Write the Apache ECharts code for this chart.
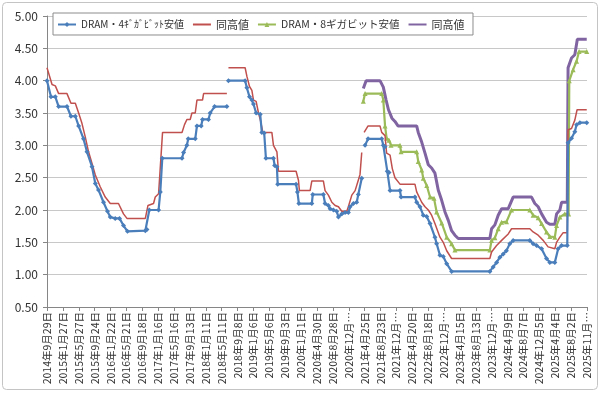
<!DOCTYPE html>
<html><head><meta charset="utf-8">
<script src="https://cdn.jsdelivr.net/npm/echarts@6/dist/echarts.min.js"></script>
<style>html,body{margin:0;padding:0;background:#fff}#c{width:600px;height:393px}</style>
</head><body><div id="c"></div>
<script>
// Series names (legend)
const seriesNames = ['DRAM・4ｷﾞｶﾞﾋﾞｯﾄ安値', '同高値', 'DRAM・8ギガビット安値', '同高値 '];
// Axis settings (days from the first date)
const startDate = '2014-09-29';
const yTicks = [0.5, 1.0, 1.5, 2.0, 2.5, 3.0, 3.5, 4.0, 4.5, 5.0];

// DRAM 4Gb low
const low4 = [
['2014-09-29',4.00],['2014-10-29',3.75],['2014-12-01',3.75],['2014-12-26',3.60],['2015-02-27',3.60],
['2015-03-29',3.45],['2015-05-01',3.45],['2015-05-26',3.30],['2015-07-02',3.10],['2015-07-28',2.90],
['2015-09-04',2.67],['2015-09-29',2.41],['2015-10-23',2.31],['2015-11-30',2.12],['2015-12-30',1.98],
['2016-01-20',1.89],['2016-02-26',1.87],['2016-03-30',1.87],['2016-04-29',1.76],['2016-05-29',1.67],
['2016-10-11',1.68],['2016-10-23',1.70],['2016-11-10',2.00],['2017-01-19',2.00],['2017-02-01',2.28],
['2017-02-16',2.80],['2017-07-15',2.80],['2017-07-27',2.89],['2017-08-21',3.00],['2017-08-31',3.10],
['2017-10-23',3.10],['2017-11-05',3.30],['2017-12-07',3.30],['2017-12-17',3.40],['2018-01-31',3.40],
['2018-02-13',3.50],['2018-03-18',3.60],['2018-06-19',3.60],['2018-06-25',null],
['2018-07-01',4.00],['2018-11-04',4.00],['2018-11-17',3.89],['2018-12-07',3.75],['2018-12-25',3.70],
['2019-01-06',3.64],['2019-01-26',3.50],['2019-02-26',3.48],['2019-03-10',3.20],['2019-03-28',3.19],
['2019-04-10',2.80],['2019-06-06',2.80],['2019-06-15',2.69],['2019-07-02',2.67],['2019-07-08',2.40],
['2019-11-24',2.40],['2019-12-04',2.28],['2019-12-15',2.10],['2020-03-22',2.10],['2020-03-29',2.24],
['2020-06-17',2.24],['2020-06-30',2.10],['2020-07-25',2.07],['2020-08-07',2.02],['2020-09-01',2.00],
['2020-09-26',1.98],['2020-10-09',1.89],['2020-11-03',1.94],['2020-11-28',1.96],['2020-12-23',1.96],
['2021-01-05',2.05],['2021-01-30',2.10],['2021-02-24',2.12],['2021-03-08',2.24],['2021-04-03',2.49],
['2021-04-15',null],
['2021-04-28',3.00],['2021-05-21',3.10],['2021-09-01',3.10],['2021-09-13',3.00],['2021-09-26',2.98],
['2021-10-13',2.60],['2021-10-26',2.58],['2021-11-03',2.30],['2022-01-17',2.30],['2022-01-25',2.20],
['2022-05-10',2.20],['2022-05-23',2.12],['2022-06-17',2.05],['2022-07-12',1.92],['2022-08-07',1.90],
['2022-09-01',1.79],['2022-10-08',1.58],['2022-10-21',1.48],['2022-11-15',1.30],['2022-12-10',1.28],
['2023-01-05',1.17],['2023-02-11',1.05],['2023-11-27',1.05],['2023-12-22',1.12],['2024-01-17',1.19],
['2024-02-11',1.27],['2024-03-07',1.32],['2024-03-31',1.37],['2024-04-26',1.48],['2024-05-21',1.53],
['2024-09-24',1.53],['2024-10-19',1.48],['2024-11-14',1.45],['2024-12-22',1.40],['2025-01-28',1.25],
['2025-02-22',1.19],['2025-04-01',1.19],['2025-04-26',1.40],['2025-05-22',1.45],['2025-07-04',1.45],
['2025-07-10',3.04],['2025-08-05',3.11],['2025-08-30',3.21],['2025-09-12',3.32],['2025-10-07',3.35],
['2025-11-28',3.35]
];

// DRAM 4Gb high
const high4 = [
['2014-09-29',4.20],['2014-11-06',3.94],['2014-12-01',3.92],['2014-12-26',3.80],['2015-02-27',3.80],
['2015-03-29',3.65],['2015-05-01',3.65],['2015-05-26',3.50],['2015-06-20',3.34],['2015-07-15',3.13],
['2015-08-09',2.90],['2015-09-04',2.72],['2015-09-29',2.54],['2015-11-05',2.36],['2015-12-13',2.20],
['2016-01-20',2.10],['2016-03-22',2.10],['2016-04-29',1.94],['2016-05-25',1.87],['2016-10-11',1.87],
['2016-10-31',2.07],['2016-11-06',2.10],['2016-12-12',2.10],['2016-12-25',2.20],['2017-01-19',2.25],
['2017-02-18',3.20],['2017-07-15',3.20],['2017-08-03',3.32],['2017-08-21',3.40],['2017-09-15',3.40],
['2017-09-28',3.50],['2017-10-23',3.50],['2017-11-05',3.70],['2017-12-17',3.70],['2017-12-25',3.80],
['2018-06-19',3.80],['2018-06-25',null],
['2018-07-01',4.20],['2018-11-04',4.20],['2018-11-17',4.07],['2018-12-07',3.91],['2018-12-25',3.85],
['2019-01-06',3.70],['2019-01-26',3.68],['2019-02-13',3.50],['2019-02-26',3.40],['2019-03-18',3.20],
['2019-05-25',3.20],['2019-06-06',3.00],['2019-07-02',2.90],['2019-07-14',2.60],['2019-11-24',2.60],
['2019-12-12',2.46],['2019-12-19',2.30],['2020-03-09',2.30],['2020-03-22',2.45],['2020-06-17',2.45],
['2020-06-30',2.30],['2020-07-25',2.23],['2020-08-20',2.12],['2020-09-14',2.07],['2020-10-09',2.05],
['2020-11-03',1.98],['2020-12-11',1.98],['2020-12-23',2.05],['2021-01-18',2.23],['2021-02-12',2.30],
['2021-03-08',2.46],['2021-03-21',2.55],['2021-04-03',2.89],['2021-04-12',null],
['2021-04-21',3.20],['2021-05-21',3.30],['2021-08-19',3.30],['2021-09-01',3.20],['2021-09-26',3.15],
['2021-10-08',2.88],['2021-11-03',2.85],['2021-11-20',2.64],['2021-12-10',2.50],['2022-01-17',2.40],
['2022-05-10',2.40],['2022-05-23',2.28],['2022-06-30',2.12],['2022-07-25',2.05],['2022-08-19',2.00],
['2022-09-13',1.92],['2022-10-08',1.79],['2022-11-15',1.58],['2022-12-10',1.50],['2023-01-05',1.37],
['2023-02-11',1.25],['2023-11-27',1.25],['2023-12-10',1.35],['2024-01-17',1.45],['2024-02-24',1.53],
['2024-03-07',1.53],['2024-04-14',1.63],['2024-05-09',1.71],['2024-09-24',1.71],['2024-10-19',1.66],
['2024-11-26',1.61],['2025-01-03',1.53],['2025-02-09',1.43],['2025-04-01',1.40],['2025-04-14',1.50],
['2025-05-09',1.58],['2025-06-03',1.65],['2025-07-04',1.65],['2025-07-10',3.24],['2025-08-05',3.26],
['2025-08-30',3.39],['2025-09-16',3.55],['2025-11-28',3.55]
];

// DRAM 8Gb low
const low8 = [
['2021-04-15',3.68],['2021-04-28',3.80],['2021-09-01',3.80],['2021-09-13',3.70],['2021-09-26',3.30],
['2021-10-08',3.11],['2021-10-26',3.08],['2021-11-10',3.00],['2022-01-17',3.00],['2022-01-25',2.90],
['2022-05-23',2.90],['2022-06-04',2.75],['2022-06-30',2.62],['2022-07-12',2.49],['2022-08-07',2.38],
['2022-09-01',2.20],['2022-10-01',2.18],['2022-10-21',1.97],['2022-11-28',1.80],['2023-01-05',1.58],
['2023-02-11',1.48],['2023-03-08',1.38],['2023-11-27',1.38],['2023-12-10',1.53],['2024-01-04',1.57],
['2024-01-29',1.71],['2024-02-24',1.81],['2024-04-01',1.82],['2024-05-09',2.00],['2024-09-24',2.00],
['2024-10-19',1.92],['2024-11-26',1.88],['2024-12-22',1.79],['2025-01-28',1.66],['2025-02-22',1.59],
['2025-04-01',1.58],['2025-04-14',1.76],['2025-05-09',1.89],['2025-06-15',1.94],['2025-07-14',1.94],
['2025-07-19',4.00],['2025-08-17',4.17],['2025-09-12',4.30],['2025-10-01',4.45],['2025-11-28',4.45]
];

// DRAM 8Gb high
const high8 = [
['2021-04-15',3.88],['2021-05-06',4.00],['2021-08-19',4.00],['2021-09-13',3.90],['2021-10-04',3.70],
['2021-10-22',3.55],['2021-11-17',3.42],['2021-12-10',3.37],['2022-01-02',3.30],['2022-05-23',3.30],
['2022-06-04',3.20],['2022-06-30',3.05],['2022-07-25',2.88],['2022-08-19',2.70],['2022-09-13',2.65],
['2022-10-08',2.57],['2022-11-02',2.31],['2022-11-28',2.15],['2022-12-23',1.97],['2023-01-17',1.84],
['2023-02-11',1.68],['2023-03-08',1.61],['2023-04-02',1.56],['2023-11-27',1.56],['2023-12-10',1.71],
['2024-01-04',1.77],['2024-01-29',1.92],['2024-02-24',2.02],['2024-04-14',2.02],['2024-05-21',2.20],
['2024-10-07',2.20],['2024-11-01',2.10],['2024-11-26',2.05],['2024-12-22',1.94],['2025-01-28',1.81],
['2025-02-22',1.78],['2025-04-01',1.78],['2025-04-14',1.94],['2025-05-09',2.00],['2025-05-22',2.12],
['2025-07-04',2.12],['2025-07-10',4.20],['2025-08-05',4.35],['2025-08-30',4.40],['2025-09-18',4.64],
['2025-11-28',4.64]
];

const FONT = '"Noto Sans CJK JP","Noto Sans",sans-serif';
const DAY = 86400000;
function utc(s){ const p = s.split('-').map(Number); return Date.UTC(p[0], p[1]-1, p[2]); }
const START = utc(startDate);
function toXY(arr){ return arr.map(([d, v]) => [(utc(d) - START) / DAY, v === null ? '-' : v]); }
function dateLabel(v){
  const t = new Date(START + v * DAY);
  const s = t.getUTCFullYear() + '年' + (t.getUTCMonth()+1) + '月' + t.getUTCDate() + '日';
  return s.length > 10 ? s.slice(0, 8) + '…' : s;
}

const chart = echarts.init(document.getElementById('c'), null, {renderer:'canvas'});
chart.setOption({
  backgroundColor:'#fff',
  animation:false,
  textStyle:{fontFamily:FONT},
  graphic:[{type:'rect', shape:{x:2.5,y:2.5,width:595,height:387,r:4}, style:{fill:'none', stroke:'#c4c4c4', lineWidth:1}, z:-1}],
  grid:{left:47, right:13, top:16, bottom:86},
  legend:{
    left:53, top:13, padding:[6,6,5,4], itemGap:8, itemWidth:18, itemHeight:6,
    borderColor:'#8c8c8c', borderWidth:1, backgroundColor:'#fff',
    textStyle:{fontSize:11, color:'#333', fontFamily:FONT},
    data:[
      {name:seriesNames[0], textStyle:{fontSize:10}},
      {name:seriesNames[1], itemStyle:{opacity:0}},
      {name:seriesNames[2], textStyle:{fontSize:10.5}},
      {name:seriesNames[3], itemStyle:{opacity:0}}
    ]
  },
  xAxis:{
    type:'value', min:0, max:4080, interval:120,
    axisLine:{lineStyle:{color:'#868686'}},
    axisTick:{show:true, length:4, lineStyle:{color:'#868686'}},
    splitLine:{show:false},
    axisLabel:{rotate:90, fontSize:10.5, color:'#333', margin:5, formatter:dateLabel, showMaxLabel:true, showMinLabel:true}
  },
  yAxis:{
    type:'value', min:yTicks[0], max:yTicks[yTicks.length-1], interval:0.5,
    axisLine:{show:true, lineStyle:{color:'#868686'}},
    axisTick:{show:true, length:4, lineStyle:{color:'#868686'}},
    splitLine:{lineStyle:{color:'#c8c8c8'}},
    axisLabel:{fontSize:12, color:'#333', margin:9, formatter:v => v.toFixed(2)}
  },
  series:[
    {name:seriesNames[0], type:'line', data:toXY(low4), color:'#4a7ebb',
     lineStyle:{width:2.2}, symbol:'diamond', symbolSize:5, showSymbol:true, z:4},
    {name:seriesNames[1], type:'line', data:toXY(high4), color:'#c0504d',
     lineStyle:{width:1.5}, symbol:'none', z:3},
    {name:seriesNames[2], type:'line', data:toXY(low8), color:'#9bbb59',
     lineStyle:{width:2.2}, symbol:'triangle', symbolSize:5, showSymbol:true, z:2},
    {name:seriesNames[3], type:'line', data:toXY(high8), color:'#8064a2',
     lineStyle:{width:3}, symbol:'none', z:1}
  ]
});
</script></body></html>
